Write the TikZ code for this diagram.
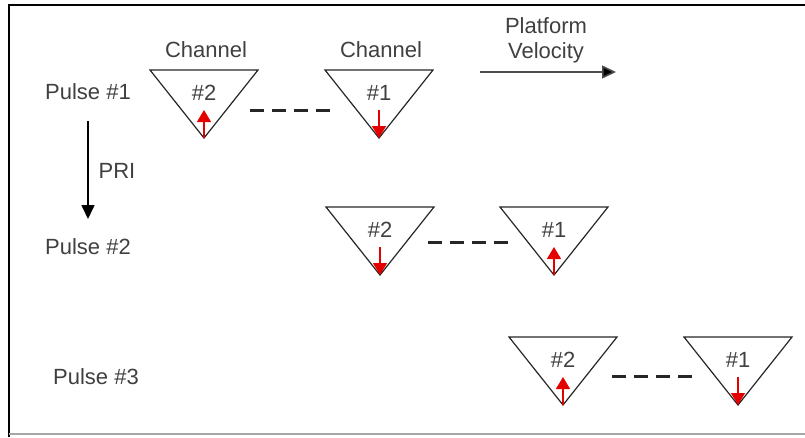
\documentclass[tikz,border=0pt]{standalone}
\usepackage{fontspec}
\setmainfont{Liberation Sans}
\usetikzlibrary{arrows.meta}
\begin{document}
\begin{tikzpicture}[x=1pt,y=-1pt,
  lbl/.style={font=\fontsize{22}{25}\selectfont, text=black!75, inner sep=0pt},
  chan/.style={draw=black!85, line width=1.2pt, line join=miter},
  redarr/.style={draw=red!90!black, line width=1.4pt, -{Triangle[length=12pt,width=14pt]}},
  gapline/.style={draw=black!85, line width=3pt, dash pattern=on 14pt off 8pt},
  flow/.style={line width=1.6pt, -{Triangle[length=14pt,width=13pt]}}]
\useasboundingbox (0,0) rectangle (805,437);
% frame
\draw[line width=2pt, black] (805,5) -- (9,5) -- (9,437);
\draw[line width=1.6pt, black!35] (9,434) -- (805,434);

% inverted triangle channel: #1 = top-left x, #2 = top y, #3 = name
\newcommand{\chantri}[3]{%
  \draw[chan] (#1,#2) -- ++(108,0) -- ++(-54,68) -- cycle;
  \coordinate (#3-apex) at ({#1+54},{#2+68});
  \coordinate (#3-top) at ({#1+54},{#2+40});
  \coordinate (#3-lab) at ({#1+54},{#2+23});
}

% pulse 1
\chantri{150}{70}{a}
\chantri{325}{70}{b}
\node[lbl] (a-t) at (a-lab) {\#2};
\node[lbl] (b-t) at (b-lab) {\#1};
\draw[redarr] (a-apex) -- (a-top);
\draw[redarr] (b-top) -- (b-apex);
\coordinate (d1s) at (250,110);
\coordinate (d1e) at (330,110);
\draw[gapline] (d1s) -- (d1e);

% pulse 2
\chantri{326}{207}{c}
\chantri{500}{207}{d}
\node[lbl] (c-t) at (c-lab) {\#2};
\node[lbl] (d-t) at (d-lab) {\#1};
\draw[redarr] (c-top) -- (c-apex);
\draw[redarr] (d-apex) -- (d-top);
\coordinate (d2s) at (428,242);
\coordinate (d2e) at (508,242);
\draw[gapline] (d2s) -- (d2e);

% pulse 3
\chantri{509}{337}{e}
\chantri{684}{337}{f}
\node[lbl] (e-t) at (e-lab) {\#2};
\node[lbl] (f-t) at (f-lab) {\#1};
\draw[redarr] (e-apex) -- (e-top);
\draw[redarr] (f-top) -- (f-apex);
\coordinate (d3s) at (612,376);
\coordinate (d3e) at (692,376);
\draw[gapline] (d3s) -- (d3e);

% channel headings
\node[lbl] (h1) at (206,50) {Channel};
\node[lbl] (h2) at (381,50) {Channel};

% platform velocity
\node[lbl, align=center] (pv) at (546,40) {Platform\\Velocity};
\coordinate (pvs) at (480,72);
\coordinate (pve) at (616,72);
\draw[flow, draw=black!70, -{Triangle[length=14pt,width=13pt,fill=black]}] (pvs) -- (pve);

% pulse labels
\node[lbl] (p1) at (88,92) {Pulse \#1};
\node[lbl] (p2) at (88,247) {Pulse \#2};
\node[lbl] (p3) at (96,377) {Pulse \#3};
\coordinate (pris) at (88,121);
\coordinate (prie) at (88,219);
\draw[flow, black] (pris) -- (prie);
\node[lbl] (pri) at (117,171) {PRI};
\end{tikzpicture}
\end{document}
